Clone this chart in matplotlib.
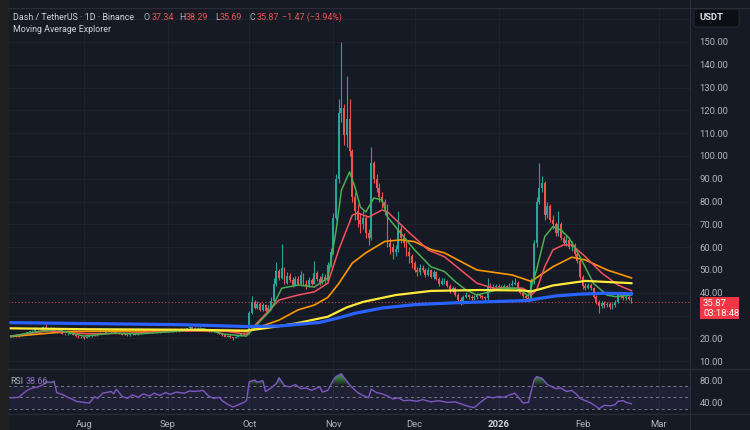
import matplotlib
matplotlib.use('Agg')
import matplotlib.pyplot as plt
import matplotlib.dates as mdates
from matplotlib.patches import Rectangle, FancyBboxPatch
from matplotlib.path import Path
from matplotlib.colors import LinearSegmentedColormap
import numpy as np
import pandas as pd

plt.rcParams['font.family'] = ['Roboto', 'DejaVu Sans']

# ---- daily candles, DASH/USDT 1D (Jul 5 2025 -> Feb 19 2026), open = previous close
first_day = '2025-07-05'
first_open = 20.7
close = [
    # Jul
    20.9, 21.0, 20.7, 21.2, 21.5, 22.0, 22.6, 23.1, 23.4, 24.4, 24.0, 23.7, 24.8, 24.2,
    23.9, 24.6, 23.3, 22.6, 22.9, 22.1, 21.7, 21.9, 22.3, 21.5, 20.9, 20.6, 20.4,
    # Aug
    20.2, 20.6, 20.9, 21.4, 21.2, 21.9, 22.3, 22.1, 22.8, 23.2, 22.7, 23.1, 22.5, 21.9, 21.6, 21.8,
    21.3, 21.7, 22.0, 21.6, 22.2, 22.9, 23.4, 22.6, 22.4, 22.9, 23.1, 22.6, 23.0, 23.5, 23.2,
    # Sep
    22.8, 23.1, 23.4, 23.0, 23.6, 24.2, 23.8, 24.4, 24.8, 24.3, 24.6, 24.1, 24.5, 23.9, 23.4,
    23.1, 23.5, 22.9, 22.6, 22.1, 21.3, 20.8, 21.2, 20.6, 20.3, 20.7, 21.1, 21.8, 22.3, 22.0,
    # Oct
    31.0, 36.0, 33.5, 35.0, 32.5, 34.5, 32.0, 33.5, 36.5, 44.0, 49.5, 46.5, 51.0, 44.5, 47.5, 45.5,
    43.5, 46.0, 44.0, 48.0, 44.0, 43.0, 45.5, 44.0, 48.5, 46.0, 44.5, 47.0, 45.0, 52.0, 58.0,
    # Nov
    73, 90, 119, 121, 109, 116, 102, 82, 76, 72, 70, 73, 66, 64, 97,
    90, 86, 82, 80, 78, 62, 60, 58, 59, 68, 64, 62, 58, 56, 53,
    # Dec
    50, 49, 51, 50, 48, 50, 47, 49, 46, 44, 45, 45, 43, 41, 42, 39,
    37, 35.5, 38, 39, 38, 37.5, 38, 39, 38.5, 38, 37.5, 43, 42, 42.5, 43,
    # Jan
    42.5, 42, 43, 42, 43.5, 44, 44.5, 42, 40, 38.5, 37.5, 37, 45, 62, 80, 86,
    88, 74, 78, 72, 70, 66, 70, 64, 62, 63, 60, 61, 57, 54, 47,
    # Feb
    43, 42, 43.5, 42, 38, 36, 34, 35.5, 34.5, 35, 33.8, 34.5, 36, 39, 38.5, 37.5, 38.2, 37.34, 35.87,
]
high = [
    21.2, 21.3, 21.2, 21.4, 21.8, 22.3, 22.9, 23.4, 23.8, 24.9, 24.7, 24.3, 25.4, 26.2,
    24.6, 25.0, 24.8, 23.5, 23.3, 23.1, 22.3, 22.2, 22.6, 22.5, 21.7, 21.2, 20.9,
    20.6, 20.9, 21.2, 21.7, 21.6, 22.2, 22.6, 22.5, 23.1, 23.6, 23.3, 23.4, 23.2, 22.6, 22.1, 22.1,
    21.9, 21.9, 22.3, 22.2, 22.5, 23.2, 23.8, 23.5, 22.8, 23.2, 23.5, 23.2, 23.3, 23.9, 23.7,
    23.4, 23.4, 23.7, 23.6, 23.9, 24.5, 24.4, 24.7, 25.3, 25.0, 24.9, 24.8, 24.8, 24.6, 24.0,
    23.6, 23.8, 23.6, 23.1, 22.8, 22.3, 21.6, 21.5, 21.3, 20.8, 21.0, 21.4, 22.1, 22.6, 22.7,
    31.8, 38.5, 37.0, 36.2, 35.8, 35.5, 35.2, 34.8, 38.0, 46.5, 53.5, 50.5, 61.5, 51.5, 49.0, 48.5,
    46.8, 47.5, 47.2, 49.5, 48.5, 45.5, 47.0, 46.5, 54.0, 49.5, 47.2, 48.5, 48.2, 53.5, 59.5,
    75, 92, 125, 150, 123, 135, 125, 103, 84, 79, 75, 76, 74, 68, 104,
    98, 92, 88, 84, 81, 79, 64, 62, 61, 76, 70, 66, 63, 60, 57,
    54, 51.5, 52.5, 52, 51, 51.5, 50.5, 50, 49.5, 47, 46.5, 46.5, 45.8, 43.8, 43, 42.5,
    39.8, 38, 39, 40.5, 39.6, 38.8, 39, 39.8, 39.8, 39, 38.6, 46.5, 44.5, 43.8, 44,
    44, 43.5, 44, 43.5, 44.5, 45.5, 46.5, 45, 42.5, 40.5, 39, 38.5, 46.5, 63, 82, 97,
    91, 89, 80, 79, 74, 71, 76, 71, 65, 65.5, 63.5, 62.5, 62, 58, 55,
    48, 44.5, 44.5, 44.2, 42.5, 39, 37, 36.5, 36.5, 36, 35.8, 35.5, 36.8, 40, 40.5, 39.5, 39, 38.8, 38.29,
]
low = [
    20.5, 20.7, 20.5, 20.6, 21.0, 21.4, 21.8, 22.4, 22.8, 23.2, 23.7, 23.3, 23.5, 23.9,
    23.5, 23.6, 23.1, 22.3, 22.3, 21.9, 21.4, 21.4, 21.7, 21.3, 20.6, 20.3, 20.1,
    19.9, 20.1, 20.4, 20.8, 21.0, 21.1, 21.8, 21.9, 22.0, 22.6, 22.5, 22.5, 22.3, 21.7, 21.3, 21.4,
    21.1, 21.2, 21.6, 21.4, 21.5, 22.1, 22.7, 22.4, 22.2, 22.3, 22.8, 22.4, 22.5, 22.9, 23.0,
    22.6, 22.6, 23.0, 22.8, 22.9, 23.5, 23.6, 23.7, 24.2, 24.0, 24.1, 23.9, 23.9, 23.7, 23.2,
    22.8, 22.9, 22.7, 22.3, 21.9, 21.1, 20.4, 20.6, 20.3, 19.3, 20.1, 20.5, 20.9, 21.6, 21.7,
    21.8, 30.5, 32.8, 33.0, 31.8, 31.9, 31.4, 31.6, 33.0, 35.8, 43.0, 45.5, 46.0, 43.8, 44.0, 44.8,
    42.5, 43.0, 43.5, 43.6, 43.2, 41.8, 42.5, 43.2, 43.8, 45.2, 43.6, 43.9, 44.2, 44.5, 51.5,
    57, 72, 88, 115, 105, 104, 100, 80, 72, 69, 66, 68, 64, 61, 63,
    88, 84, 80, 77, 74, 60, 57, 55, 56, 58, 62, 60, 56, 53, 51,
    49, 47.5, 48, 49, 47, 47.5, 46.5, 46, 45.5, 43, 43.5, 44, 42.5, 40, 40.5, 38.5,
    36.5, 34.8, 35, 37.5, 37.2, 36.8, 37, 37.4, 37.8, 37.4, 36.6, 37, 41, 41.2, 41.6,
    41.5, 41.2, 41.5, 41.4, 41.6, 42.8, 43.5, 41.6, 39.5, 37.8, 37, 36.4, 36.8, 44, 60, 79,
    84, 72, 73, 71, 68, 65, 65, 63, 61, 60.5, 59, 58.5, 56, 53, 46,
    41.5, 41, 41.5, 41.2, 37.5, 35, 31, 33.5, 33.2, 33.6, 33, 33, 33.8, 35.5, 37.5, 36.8, 37, 36.9, 35.69,
]

# ---- moving averages
green_dates = ['2025-07-05', '2025-07-15', '2025-07-22', '2025-08-01', '2025-08-12', '2025-08-22',
               '2025-09-05', '2025-09-14', '2025-09-22', '2025-09-30', '2025-10-05', '2025-10-09',
               '2025-10-13', '2025-10-19', '2025-10-25', '2025-10-30', '2025-11-02', '2025-11-04',
               '2025-11-07', '2025-11-09', '2025-11-11', '2025-11-13', '2025-11-16', '2025-11-19',
               '2025-11-21', '2025-11-26', '2025-12-01', '2025-12-07', '2025-12-12', '2025-12-16',
               '2025-12-20', '2025-12-24', '2025-12-29', '2026-01-02', '2026-01-08', '2026-01-12',
               '2026-01-15', '2026-01-18', '2026-01-21', '2026-01-24', '2026-01-27', '2026-01-31',
               '2026-02-05', '2026-02-10', '2026-02-13', '2026-02-19']
green_vals = [20.9, 23.0, 23.8, 21.0, 22.3, 22.0, 23.2, 24.2, 21.8, 21.0, 27.5, 32.5,
              42.0, 43.4, 42.5, 46.5, 67.0, 85.0, 93.0, 86.4, 77.6, 75.4, 81.6, 80.7,
              73.2, 66.0, 58.8, 51.4, 49.3, 44.9, 41.2, 39.0, 40.5, 42.0, 42.0, 38.5,
              50.0, 64.6, 69.0, 67.5, 64.0, 55.8, 44.1, 39.0, 38.3, 39.0]

red_dates = ['2025-07-05', '2025-07-19', '2025-08-02', '2025-08-16', '2025-09-06', '2025-09-20',
             '2025-09-30', '2025-10-06', '2025-10-12', '2025-10-19', '2025-10-25', '2025-10-30',
             '2025-11-03', '2025-11-08', '2025-11-10', '2025-11-14', '2025-11-19', '2025-11-21',
             '2025-11-28', '2025-12-06', '2025-12-12', '2025-12-18', '2025-12-24', '2025-12-30',
             '2026-01-10', '2026-01-13', '2026-01-15', '2026-01-18', '2026-01-21', '2026-01-25',
             '2026-01-28', '2026-02-02', '2026-02-08', '2026-02-14', '2026-02-19']
red_vals = [21.0, 23.3, 22.0, 22.2, 23.2, 23.5, 21.8, 29.4, 36.8, 39.0, 40.4, 44.2,
            58.8, 74.0, 75.0, 73.2, 76.3, 75.5, 67.5, 58.8, 55.8, 50.0, 44.2, 42.0,
            42.0, 39.0, 41.2, 51.4, 58.8, 61.0, 61.0, 55.8, 48.7, 43.4, 40.9]

orange_dates = ['2025-07-05', '2025-07-26', '2025-08-16', '2025-09-13', '2025-09-30', '2025-10-12',
                '2025-10-19', '2025-10-25', '2025-10-30', '2025-11-03', '2025-11-08', '2025-11-13',
                '2025-11-20', '2025-11-26', '2025-12-01', '2025-12-07', '2025-12-12', '2025-12-24',
                '2026-01-06', '2026-01-13', '2026-01-21', '2026-01-28', '2026-02-02', '2026-02-10',
                '2026-02-19']
orange_vals = [20.8, 23.0, 23.2, 23.4, 23.0, 28.0, 32.5, 34.6, 38.0, 44.0, 53.0, 57.5,
               62.5, 63.2, 62.4, 59.0, 57.5, 50.0, 47.8, 45.0, 51.4, 55.6, 54.4, 50.0, 46.5]

yellow_dates = ['2025-07-05', '2025-08-02', '2025-09-06', '2025-09-30', '2025-10-06', '2025-10-18',
                '2025-10-30', '2025-11-06', '2025-11-12', '2025-11-24', '2025-12-07', '2025-12-25',
                '2026-01-10', '2026-01-13', '2026-01-16', '2026-01-21', '2026-02-02', '2026-02-19']
yellow_vals = [24.4, 24.0, 23.8, 23.4, 24.3, 26.5, 29.5, 33.6, 36.0, 39.0, 40.8, 41.2,
               41.0, 40.6, 41.5, 43.2, 45.2, 44.2]

blue_dates = ['2025-07-05', '2025-08-02', '2025-09-06', '2025-09-30', '2025-10-12', '2025-10-27',
              '2025-11-03', '2025-11-09', '2025-11-19', '2025-12-01', '2025-12-16', '2026-01-01',
              '2026-01-12', '2026-01-16', '2026-01-22', '2026-01-31', '2026-02-09', '2026-02-19']
blue_vals = [26.9, 26.5, 26.0, 25.2, 25.4, 27.0, 29.0, 31.0, 33.3, 34.8, 35.6, 36.2,
             36.6, 37.5, 38.6, 39.4, 39.8, 39.6]

# ---- RSI(14)
rsi_dates = ['2025-07-05', '2025-07-08', '2025-07-11', '2025-07-13', '2025-07-15', '2025-07-17',
             '2025-07-18', '2025-07-20', '2025-07-21', '2025-07-22', '2025-07-24', '2025-07-26',
             '2025-07-28', '2025-07-29', '2025-08-01', '2025-08-03', '2025-08-05', '2025-08-06',
             '2025-08-08', '2025-08-11', '2025-08-12', '2025-08-13', '2025-08-15', '2025-08-17',
             '2025-08-19', '2025-08-21', '2025-08-23', '2025-08-25', '2025-08-27', '2025-08-29',
             '2025-08-31', '2025-09-02', '2025-09-04', '2025-09-07', '2025-09-09', '2025-09-11',
             '2025-09-14', '2025-09-16', '2025-09-18', '2025-09-20', '2025-09-21', '2025-09-23',
             '2025-09-25', '2025-09-27', '2025-09-29', '2025-09-30', '2025-10-01', '2025-10-03',
             '2025-10-04', '2025-10-06', '2025-10-07', '2025-10-09', '2025-10-11', '2025-10-12',
             '2025-10-14', '2025-10-16', '2025-10-18', '2025-10-20', '2025-10-22', '2025-10-24',
             '2025-10-27', '2025-10-28', '2025-10-30', '2025-11-01', '2025-11-02', '2025-11-04',
             '2025-11-05', '2025-11-07', '2025-11-08', '2025-11-10', '2025-11-12', '2025-11-14',
             '2025-11-15', '2025-11-17', '2025-11-19', '2025-11-21', '2025-11-23', '2025-11-25',
             '2025-11-27', '2025-11-29', '2025-12-02', '2025-12-04', '2025-12-07', '2025-12-10',
             '2025-12-13', '2025-12-16', '2025-12-19', '2025-12-21', '2025-12-23', '2025-12-25',
             '2025-12-28', '2025-12-30', '2026-01-01', '2026-01-03', '2026-01-05', '2026-01-07',
             '2026-01-09', '2026-01-10', '2026-01-12', '2026-01-14', '2026-01-15', '2026-01-17',
             '2026-01-19', '2026-01-20', '2026-01-22', '2026-01-24', '2026-01-26', '2026-01-28',
             '2026-01-30', '2026-01-31', '2026-02-02', '2026-02-04', '2026-02-06', '2026-02-07',
             '2026-02-09', '2026-02-11', '2026-02-13', '2026-02-14', '2026-02-16', '2026-02-17',
             '2026-02-19']
rsi_vals = [49, 50, 62, 66, 68, 72, 77, 76, 78, 58, 55, 50,
            46, 43, 41, 40, 51, 48, 57, 60, 56, 64, 52, 48,
            54, 50, 56, 52, 57, 53, 58, 55, 59, 57, 61, 60,
            62, 52, 48, 50, 44, 38, 33, 37, 41, 44, 77, 80,
            76, 79, 60, 66, 74, 84, 70, 68, 72, 65, 66, 62,
            68, 59, 62, 80, 86, 91, 84, 72, 67, 58, 53, 49,
            64, 58, 56, 52, 47, 49, 44, 45, 43, 46, 42, 44,
            41, 42, 37, 34, 32, 40, 51, 49, 51, 50, 54, 57,
            46, 40, 41, 79, 86, 83, 72, 70, 65, 66, 60, 62,
            54, 48, 44, 40, 34, 30, 36, 35, 37, 43, 44, 41,
            38.66]

y_ticks = [10, 20, 40, 50, 60, 70, 80, 90, 100, 110, 120, 130, 140, 150]
month_ticks = ['2025-08-01', '2025-09-01', '2025-10-01', '2025-11-01', '2025-12-01',
               '2026-01-01', '2026-02-01', '2026-03-01']
month_labels = ['Aug', 'Sep', 'Oct', 'Nov', 'Dec', '2026', 'Feb', 'Mar']
last_price = 35.87

# ---- style
BG = '#161a25'
GRID = '#1f2330'
SEP = '#2a2e39'
TXT = '#b2b5be'
UP, DOWN = '#26a69a', '#ef5350'
FS = 6.8
HFS = 6.4

W, H = 750, 430
fig = plt.figure(figsize=(W / 100, H / 100), dpi=100, facecolor=BG)


def fx(px):
    return px / W


def fy(py):
    return 1 - py / H


ax = fig.add_axes([fx(8), fy(368), fx(690) - fx(8), fy(8) - fy(368)], facecolor=BG)
rx = fig.add_axes([fx(8), fy(413), fx(690) - fx(8), fy(370) - fy(413)], facecolor=BG, sharex=ax)

dates = pd.date_range(first_day, periods=len(close), freq='D')
xs = mdates.date2num(dates)
c = np.array(close)
o = np.r_[first_open, c[:-1]]
cols = [UP if cc >= oo else DOWN for cc, oo in zip(c, o)]
body_lo = np.minimum(o, c)
body_h = np.maximum(np.abs(c - o), 0.15)

ax.vlines(xs, low, high, colors=cols, linewidth=0.8, zorder=2)
ax.bar(xs, body_h, bottom=body_lo, width=0.7, color=cols, linewidth=0, zorder=2)


def dn(lst):
    return mdates.date2num(pd.to_datetime(lst))


ax.plot(dn(orange_dates), orange_vals, color='#ff9800', lw=1.2, zorder=3)
ax.plot(dn(red_dates), red_vals, color='#f7525f', lw=1.1, zorder=3)
ax.plot(dn(green_dates), green_vals, color='#4caf50', lw=1.1, zorder=3)
ax.plot(dn(yellow_dates), yellow_vals, color='#ffeb3b', lw=1.6, zorder=3)
ax.plot(dn(blue_dates), blue_vals, color='#2962ff', lw=2.3, zorder=3)

ax.axhline(last_price, color=DOWN, lw=0.8, ls=(0, (1, 2)), alpha=0.8, zorder=1)

aug1 = mdates.date2num(pd.Timestamp('2025-08-01'))
ax.set_xlim(aug1 - 28.0, aug1 + 223.6)
ax.set_ylim(7.0, 164.9)

# grids
mt = dn(month_ticks)
for a in (ax, rx):
    for m in mt:
        a.axvline(m, color=GRID, lw=0.8, zorder=0)
for v in range(10, 161, 10):
    ax.axhline(v, color=GRID, lw=0.8, zorder=0)

ax.yaxis.tick_right()
ax.set_yticks(y_ticks)
ax.set_yticklabels([f'{v:.2f}' for v in y_ticks])
ax.tick_params(axis='y', length=0, pad=7, labelsize=FS, labelcolor=TXT)
ax.tick_params(axis='x', length=0, labelbottom=False)

# RSI pane
rd = dn(rsi_dates)
rv = np.array(rsi_vals)
rx.fill_between([aug1 - 40, aug1 + 240], 30, 70, color='#7e57c2', alpha=0.10, lw=0)
for lvl in (30, 50, 70):
    rx.axhline(lvl, color='#787b86', lw=0.7, ls=(0, (3, 3)))
# overbought area: gradient that fades towards the 70 line
ob = rx.fill_between(rd, 70, rv, where=rv > 70, interpolate=True, color='none', lw=0)
ob_paths = ob.get_paths()
grad = np.linspace(0, 1, 64).reshape(-1, 1)
ob_cmap = LinearSegmentedColormap.from_list('ob', [(0.30, 0.69, 0.31, 0.0), (0.30, 0.69, 0.31, 1.0)])
img = rx.imshow(grad, extent=[rd[0], rd[-1], 70, 92], origin='lower', aspect='auto',
                cmap=ob_cmap, zorder=1)
img.set_clip_path(Path.make_compound_path(*ob_paths), transform=rx.transData)
rx.plot(rd, rv, color='#7e57c2', lw=1.0, zorder=2)
rx.set_xlim(aug1 - 28.0, aug1 + 223.6)
rx.set_ylim(22.6, 97.4)
rx.yaxis.tick_right()
rx.set_yticks([40, 80])
rx.set_yticklabels(['40.00', '80.00'])
rx.tick_params(axis='y', length=0, pad=7, labelsize=FS, labelcolor=TXT)
rx.set_xticks(mt)
rx.set_xticklabels(month_labels)
rx.tick_params(axis='x', length=0, pad=5, labelsize=FS, labelcolor=TXT)
for lab in rx.get_xticklabels():
    if lab.get_text() == '2026':
        lab.set_fontweight('bold')
        lab.set_color('#d1d4dc')

for a in (ax, rx):
    for s in a.spines.values():
        s.set_visible(False)

# separators and side strip
fig.add_artist(plt.Line2D([fx(690), fx(690)], [0, 1], color=SEP, lw=0.8))
fig.add_artist(plt.Line2D([fx(8), 1], [fy(369), fy(369)], color=SEP, lw=1.0))
fig.add_artist(plt.Line2D([fx(8), 1], [fy(413.5), fy(413.5)], color=SEP, lw=0.8))
fig.add_artist(plt.Line2D([fx(8), 1], [fy(7.5), fy(7.5)], color=SEP, lw=0.8))
fig.add_artist(Rectangle((0, 0), fx(8), 1, color='#202020', transform=fig.transFigure))

# header
fig.text(fx(13), fy(17), 'Dash / TetherUS · 1D · Binance', color='#d1d4dc', fontsize=HFS, va='center')
parts = [(144, 'O', TXT), (152, '37.34', DOWN), (179, 'H', TXT), (186, '38.29', DOWN),
         (215, 'L', TXT), (220, '35.69', DOWN), (249, 'C', TXT), (257, '35.87', DOWN),
         (282, '\u22121.47 (\u22123.94%)', DOWN)]
for px, t, col in parts:
    fig.text(fx(px), fy(17), t, color=col, fontsize=HFS, va='center')
fig.text(fx(13), fy(30), 'Moving Average Explorer', color='#d1d4dc', fontsize=HFS, va='center')

fig.text(fx(10), fy(381), 'RSI', color=TXT, fontsize=HFS, va='center')
fig.text(fx(26), fy(381), '38.66', color='#9575cd', fontsize=HFS, va='center')

# USDT box and last-price label
fig.add_artist(FancyBboxPatch((fx(694), fy(27)), fx(739) - fx(694), fy(9) - fy(27),
                              boxstyle='round,pad=0,rounding_size=0.006',
                              facecolor='#0c0e15', edgecolor='#2a2e39', lw=0.6,
                              transform=fig.transFigure))
fig.text(fx(700), fy(18), 'USDT', color='#e0e3eb', fontsize=FS, va='center', fontweight='bold')
fig.add_artist(Rectangle((fx(700), fy(319)), fx(739) - fx(700), fy(297) - fy(319),
                         facecolor='#f23645', edgecolor='none', transform=fig.transFigure))
fig.text(fx(703), fy(303), f'{last_price:.2f}', color='white', fontsize=FS, va='center')
fig.text(fx(703), fy(313), '03:18:48', color='white', fontsize=FS, va='center')

fig.savefig('out.png', dpi=100, facecolor=BG)
